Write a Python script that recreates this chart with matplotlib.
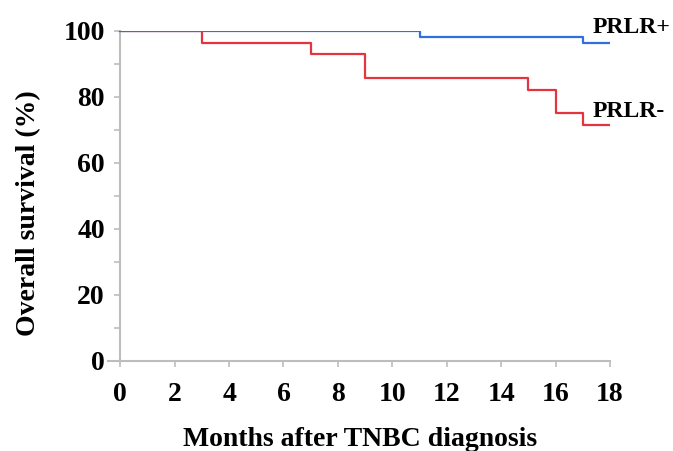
import matplotlib
matplotlib.use("Agg")
import matplotlib.pyplot as plt

# Data (Kaplan-Meier step curves)
prlr_pos_t = [0, 11, 17, 18]
prlr_pos_s = [100, 98.2, 96.4, 96.4]
prlr_neg_t = [0, 3, 7, 9, 15, 16, 17, 18]
prlr_neg_s = [100, 96.4, 92.9, 85.7, 82.1, 75.0, 71.4, 71.4]
x_ticks = [0, 2, 4, 6, 8, 10, 12, 14, 16, 18]
y_ticks = [0, 20, 40, 60, 80, 100]

plt.rcParams['font.family'] = ['Liberation Serif', 'DejaVu Serif']
plt.rcParams['font.weight'] = 'bold'

W, H = 673, 451
fig = plt.figure(figsize=(W/100, H/100), dpi=100)
ax = fig.add_axes([108/W, 1-361/H, (610-108)/W, (361-31)/H])

blue = '#2f6fe0'
red = '#e5333f'
ax.step(prlr_pos_t, prlr_pos_s, where='post', color=blue, lw=1.6, zorder=3)
ax.step(prlr_neg_t, prlr_neg_s, where='post', color=red, lw=1.6, zorder=2)

ax.set_xlim(-0.45, 18)
ax.set_ylim(0, 100)
for s in ['top', 'right']:
    ax.spines[s].set_visible(False)
ax.spines['left'].set_position(('data', 0))
gray = '#bdbdbd'
for s in ['left', 'bottom']:
    ax.spines[s].set_color(gray)
    ax.spines[s].set_linewidth(1.5)

ax.set_xticks(x_ticks)
ax.set_xticklabels([str(v) for v in x_ticks])
ax.set_yticks(y_ticks)
ax.set_yticklabels([str(v) for v in y_ticks])
ax.set_yticks(range(10, 100, 20), minor=True)
ax.tick_params(axis='both', which='both', color=gray, width=1.2, length=4, direction='out')
ax.tick_params(axis='x', labelsize=20, pad=11)
ax.tick_params(axis='y', labelsize=20, pad=7)
for lbl in ax.get_xticklabels() + ax.get_yticklabels():
    lbl.set_fontweight('bold')

fig.text(360/W, 1-446/H, 'Months after TNBC diagnosis', fontsize=20, fontweight='bold',
         ha='center', va='baseline')
fig.text(29/W, 1-213/H, 'Overall survival (%)', fontsize=20, fontweight='bold',
         ha='center', va='center', rotation=90)

ax.text(17.35, 99.4, 'PRLR+', fontsize=17, fontweight='bold', va='baseline', ha='left', clip_on=False)
ax.text(17.35, 73.9, 'PRLR-', fontsize=17, fontweight='bold', va='baseline', ha='left', clip_on=False)

fig.savefig('out.png', dpi=100)
